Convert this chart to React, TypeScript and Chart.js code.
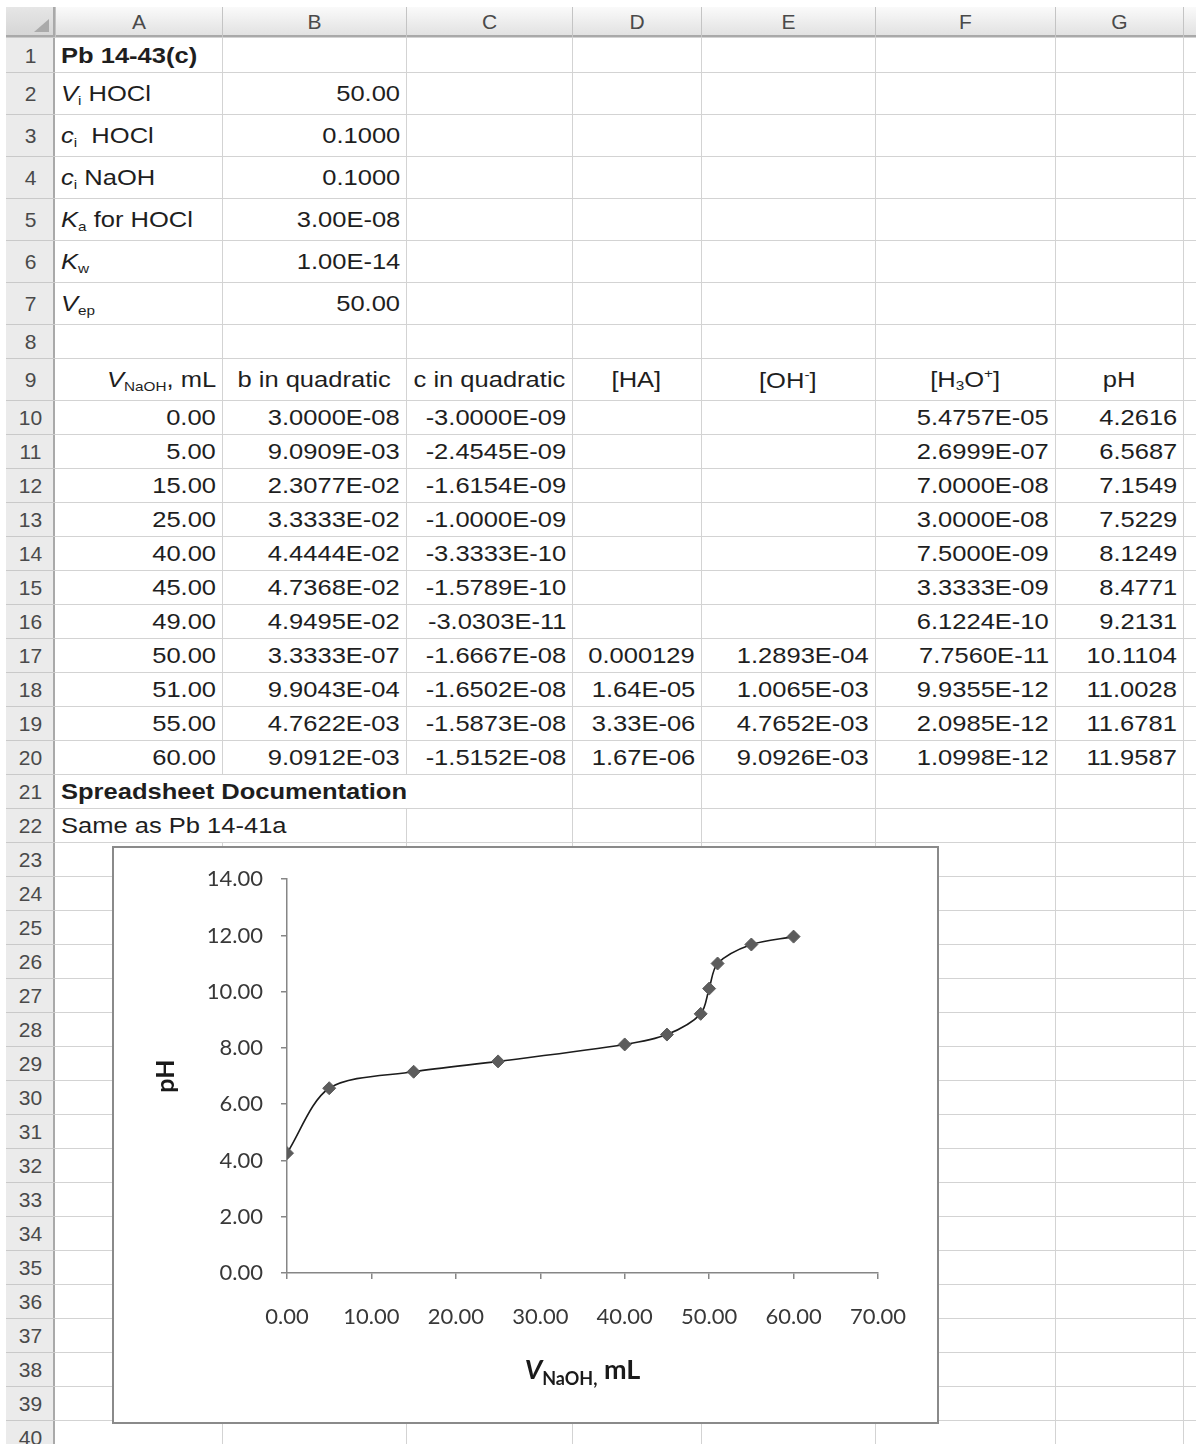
import React, { useEffect, useRef } from "react";
import { Chart, registerables } from "chart.js";

Chart.register(...registerables);

// ---------- data ----------
const columnLetters = ["A", "B", "C", "D", "E", "F", "G"];
const paramValues = ["50.00", "0.1000", "0.1000", "3.00E-08", "1.00E-14", "50.00"];
const volumeML = [0, 5, 15, 25, 40, 45, 49, 50, 51, 55, 60];
const pHValues = [4.2616, 6.5687, 7.1549, 7.5229, 8.1249, 8.4771, 9.2131, 10.1104, 11.0028, 11.6781, 11.9587];
const bQuadratic = ["3.0000E-08", "9.0909E-03", "2.3077E-02", "3.3333E-02", "4.4444E-02", "4.7368E-02", "4.9495E-02", "3.3333E-07", "9.9043E-04", "4.7622E-03", "9.0912E-03"];
const cQuadratic = ["-3.0000E-09", "-2.4545E-09", "-1.6154E-09", "-1.0000E-09", "-3.3333E-10", "-1.5789E-10", "-3.0303E-11", "-1.6667E-08", "-1.6502E-08", "-1.5873E-08", "-1.5152E-08"];
const concHA = ["", "", "", "", "", "", "", "0.000129", "1.64E-05", "3.33E-06", "1.67E-06"];
const concOH = ["", "", "", "", "", "", "", "1.2893E-04", "1.0065E-03", "4.7652E-03", "9.0926E-03"];
const concH3O = ["5.4757E-05", "2.6999E-07", "7.0000E-08", "3.0000E-08", "7.5000E-09", "3.3333E-09", "6.1224E-10", "7.7560E-11", "9.9355E-12", "2.0985E-12", "1.0998E-12"];
const xTickValues = [0, 10, 20, 30, 40, 50, 60, 70];
const yTickValues = [0, 2, 4, 6, 8, 10, 12, 14];

// ---------- layout ----------
const COL_X = [6, 55, 222, 406, 572, 701, 875, 1055, 1183, 1400];
const HEADER_TOP = 7;
const ROW_Y: number[] = (() => {
  const ys = [37, 72, 114, 156, 198, 240, 282, 324, 358, 400];
  for (let r = 11; r <= 41; r++) ys.push(400 + (r - 10) * 34);
  return ys;
})();
const PAGE_W = 1196;
const PAGE_H = 1444;
const GRID = "#d3d3d3";
const CELL_FONT = '"Liberation Sans", Arial, sans-serif';
const STRETCH = 1.16;

const subStyle: React.CSSProperties = { fontSize: "0.6em", verticalAlign: "-0.28em" };
const supStyle: React.CSSProperties = { fontSize: "0.6em", verticalAlign: "0.65em" };

type Align = "left" | "right" | "center";

function Cell(props: { c: number; r: number; align?: Align; bold?: boolean; children: React.ReactNode }) {
  const { c, r, align = "left", bold = false, children } = props;
  const left = COL_X[c];
  const right = COL_X[c + 1];
  const top = ROW_Y[r - 1];
  const bottom = ROW_Y[r];
  const jc = align === "left" ? "flex-start" : align === "right" ? "flex-end" : "center";
  const origin = align === "left" ? "left center" : align === "right" ? "right center" : "center center";
  return (
    <div
      style={{
        position: "absolute",
        left,
        top: top + 1,
        width: right - left,
        height: bottom - top,
        display: "flex",
        alignItems: "center",
        justifyContent: jc,
        padding: "0 6px",
        boxSizing: "border-box",
        fontFamily: CELL_FONT,
        fontSize: 22,
        fontWeight: bold ? 700 : 400,
        color: "#1e1e1e",
        whiteSpace: "nowrap",
        overflow: "visible",
      }}
    >
      <span style={{ display: "inline-block", transform: `scaleX(${STRETCH})`, transformOrigin: origin }}>{children}</span>
    </div>
  );
}

const xTitlePlugin = {
  id: "xTitleParts",
  afterDraw(chart: any) {
    const { ctx, chartArea } = chart;
    const cx = (chartArea.left + chartArea.right) / 2;
    const baseY = chartArea.bottom + 106;
    const parts = [
      { t: "V", font: "italic bold 27px Lato", dy: 0 },
      { t: "NaOH,", font: "bold 18px Lato", dy: 6 },
      { t: " mL", font: "bold 27px Lato", dy: 0 },
    ];
    ctx.save();
    let total = 0;
    const widths = parts.map((p) => {
      ctx.font = p.font;
      const w = ctx.measureText(p.t).width;
      total += w;
      return w;
    });
    let x = cx - total / 2;
    ctx.fillStyle = "#1a1a1a";
    ctx.textBaseline = "alphabetic";
    ctx.textAlign = "left";
    parts.forEach((p, i) => {
      ctx.font = p.font;
      ctx.fillText(p.t, x, baseY + p.dy);
      x += widths[i];
    });
    ctx.restore();
  },
};

function TitrationChart() {
  const ref = useRef<HTMLCanvasElement | null>(null);
  useEffect(() => {
    if (!ref.current) return;
    const axisColor = "#868686";
    const tickFont = { family: "Lato", size: 22 };
    const chart = new Chart(ref.current, {
      type: "scatter",
      data: {
        datasets: [
          {
            data: volumeML.map((v, i) => ({ x: v, y: pHValues[i] })),
            showLine: true,
            tension: 0.3,
            borderColor: "#1c1c1c",
            borderWidth: 1.6,
            pointStyle: "rectRot",
            pointRadius: 6.5,
            pointBackgroundColor: "#5c5c5c",
            pointBorderColor: "#5c5c5c",
            pointBorderWidth: 1,
          },
        ],
      },
      options: {
        responsive: false,
        animation: false,
        devicePixelRatio: 1,
        layout: { padding: { left: 0, top: 26, right: 59, bottom: 0 } },
        plugins: { legend: { display: false }, tooltip: { enabled: false } },
        scales: {
          x: {
            type: "linear",
            min: 0,
            max: 70,
            afterBuildTicks: (s: any) => {
              s.ticks = xTickValues.map((v) => ({ value: v }));
            },
            ticks: {
              callback: (v: any) => Number(v).toFixed(2),
              font: tickFont,
              color: "#383838",
              padding: 25,
              maxRotation: 0,
              autoSkip: false,
            },
            grid: { display: true, drawOnChartArea: false, drawTicks: true, tickLength: 6, color: axisColor, lineWidth: 1.5 },
            border: { display: true, color: axisColor, width: 1.5 },
            afterFit: (s: any) => {
              s.height = 149;
            },
          },
          y: {
            type: "linear",
            min: 0,
            max: 14,
            afterBuildTicks: (s: any) => {
              s.ticks = yTickValues.map((v) => ({ value: v }));
            },
            ticks: {
              callback: (v: any) => Number(v).toFixed(2),
              font: tickFont,
              color: "#383838",
              padding: 18,
            },
            grid: { display: true, drawOnChartArea: false, drawTicks: true, tickLength: 6, color: axisColor, lineWidth: 1.5 },
            border: { display: true, color: axisColor, width: 1.5 },
            title: {
              display: true,
              text: "pH",
              font: { family: "Lato", size: 25, weight: "bold" },
              color: "#1a1a1a",
              padding: { top: 37, bottom: 0 },
            },
            afterFit: (s: any) => {
              s.width = 173;
            },
          },
        },
      } as any,
      plugins: [xTitlePlugin],
    });
    return () => chart.destroy();
  }, []);
  return <canvas ref={ref} width={823} height={574} style={{ display: "block" }} />;
}

export default function App() {
  const rowsCount = 40;
  const lines: React.ReactNode[] = [];
  for (let i = 0; i <= rowsCount; i++) {
    lines.push(
      <div key={"h" + i} style={{ position: "absolute", left: COL_X[1], top: ROW_Y[i], width: PAGE_W - COL_X[1], height: 1, background: GRID }} />
    );
  }
  for (let c = 2; c < COL_X.length - 1; c++) {
    lines.push(
      <div key={"v" + c} style={{ position: "absolute", left: COL_X[c], top: ROW_Y[0], width: 1, height: PAGE_H - ROW_Y[0], background: GRID }} />
    );
  }

  const headerCells = columnLetters.map((L, i) => (
    <div
      key={"ch" + L}
      style={{
        position: "absolute",
        left: COL_X[i + 1],
        top: HEADER_TOP,
        width: COL_X[i + 2] - COL_X[i + 1],
        height: ROW_Y[0] - HEADER_TOP,
        borderLeft: "1px solid #c4c4c4",
        boxSizing: "border-box",
        display: "flex",
        alignItems: "center",
        justifyContent: "center",
        fontFamily: CELL_FONT,
        fontSize: 21,
        color: "#4a4a4a",
      }}
    >
      {L}
    </div>
  ));

  const rowNums: React.ReactNode[] = [];
  for (let r = 1; r <= rowsCount; r++) {
    rowNums.push(
      <div
        key={"rn" + r}
        style={{
          position: "absolute",
          left: COL_X[0],
          top: ROW_Y[r - 1],
          width: COL_X[1] - COL_X[0],
          height: ROW_Y[r] - ROW_Y[r - 1],
          borderTop: "1px solid #c9c9c9",
          boxSizing: "border-box",
          display: "flex",
          alignItems: "center",
          justifyContent: "center",
          fontFamily: CELL_FONT,
          fontSize: 21,
          color: "#4a4a4a",
          paddingTop: 1,
        }}
      >
        {r}
      </div>
    );
  }

  const paramLabels: React.ReactNode[] = [
    <>
      <i>V</i>
      <span style={subStyle}>i</span> HOCl
    </>,
    <>
      <i>c</i>
      <span style={subStyle}>i</span>&nbsp; HOCl
    </>,
    <>
      <i>c</i>
      <span style={subStyle}>i</span> NaOH
    </>,
    <>
      <i>K</i>
      <span style={subStyle}>a</span> for HOCl
    </>,
    <>
      <i>K</i>
      <span style={subStyle}>w</span>
    </>,
    <>
      <i>V</i>
      <span style={subStyle}>ep</span>
    </>,
  ];

  const cells: React.ReactNode[] = [];
  cells.push(
    <Cell key="a1" c={1} r={1} bold>
      Pb 14-43(c)
    </Cell>
  );
  paramLabels.forEach((lab, i) => {
    cells.push(
      <Cell key={"pl" + i} c={1} r={i + 2}>
        {lab}
      </Cell>
    );
    cells.push(
      <Cell key={"pv" + i} c={2} r={i + 2} align="right">
        {paramValues[i]}
      </Cell>
    );
  });
  cells.push(
    <Cell key="h9a" c={1} r={9} align="right">
      <i>V</i>
      <span style={subStyle}>NaOH</span>, mL
    </Cell>
  );
  cells.push(<Cell key="h9b" c={2} r={9} align="center">b in quadratic</Cell>);
  cells.push(<Cell key="h9c" c={3} r={9} align="center">c in quadratic</Cell>);
  cells.push(<Cell key="h9d" c={4} r={9} align="center">[HA]</Cell>);
  cells.push(
    <Cell key="h9e" c={5} r={9} align="center">
      [OH<span style={supStyle}>-</span>]
    </Cell>
  );
  cells.push(
    <Cell key="h9f" c={6} r={9} align="center">
      [H<span style={subStyle}>3</span>O<span style={supStyle}>+</span>]
    </Cell>
  );
  cells.push(<Cell key="h9g" c={7} r={9} align="center">pH</Cell>);

  volumeML.forEach((v, i) => {
    const r = 10 + i;
    cells.push(<Cell key={"va" + i} c={1} r={r} align="right">{v.toFixed(2)}</Cell>);
    cells.push(<Cell key={"vb" + i} c={2} r={r} align="right">{bQuadratic[i]}</Cell>);
    cells.push(<Cell key={"vc" + i} c={3} r={r} align="right">{cQuadratic[i]}</Cell>);
    if (concHA[i]) cells.push(<Cell key={"vd" + i} c={4} r={r} align="right">{concHA[i]}</Cell>);
    if (concOH[i]) cells.push(<Cell key={"ve" + i} c={5} r={r} align="right">{concOH[i]}</Cell>);
    cells.push(<Cell key={"vf" + i} c={6} r={r} align="right">{concH3O[i]}</Cell>);
    cells.push(<Cell key={"vg" + i} c={7} r={r} align="right">{pHValues[i].toFixed(4)}</Cell>);
  });
  cells.push(
    <Cell key="a21" c={1} r={21} bold>
      Spreadsheet Documentation
    </Cell>
  );
  cells.push(
    <Cell key="a22" c={1} r={22}>
      Same as Pb 14-41a
    </Cell>
  );

  const masks = [
    <div key="m21" style={{ position: "absolute", left: COL_X[1] + 1, top: ROW_Y[20] + 1, width: COL_X[4] - COL_X[1] - 2, height: ROW_Y[21] - ROW_Y[20] - 1, background: "#fff" }} />,
    <div key="m22" style={{ position: "absolute", left: COL_X[1] + 1, top: ROW_Y[21] + 1, width: COL_X[3] - COL_X[1] - 2, height: ROW_Y[22] - ROW_Y[21] - 1, background: "#fff" }} />,
  ];

  return (
    <div style={{ position: "absolute", left: 0, top: 0, width: PAGE_W, height: PAGE_H, overflow: "hidden", background: "#fff" }}>
      {lines}
      {masks}
      <div
        style={{
          position: "absolute",
          left: COL_X[0],
          top: HEADER_TOP,
          width: PAGE_W - COL_X[0],
          height: ROW_Y[0] - HEADER_TOP,
          background: "linear-gradient(#fafafa, #e2e2e2)",
          borderBottom: "2px solid #a9a9a9",
          boxSizing: "border-box",
        }}
      />
      {headerCells}
      <div style={{ position: "absolute", left: COL_X[8], top: HEADER_TOP, width: 1, height: ROW_Y[0] - HEADER_TOP, background: "#c4c4c4" }} />
      <div
        style={{
          position: "absolute",
          left: COL_X[0],
          top: ROW_Y[0],
          width: COL_X[1] - COL_X[0],
          height: PAGE_H - ROW_Y[0],
          background: "#ebebeb",
          borderRight: "2px solid #a9a9a9",
          boxSizing: "border-box",
        }}
      />
      {rowNums}
      <div
        style={{
          position: "absolute",
          left: COL_X[0],
          top: HEADER_TOP,
          width: COL_X[1] - COL_X[0],
          height: ROW_Y[0] - HEADER_TOP,
          background: "linear-gradient(#e6e6e6, #d6d6d6)",
          borderRight: "2px solid #a9a9a9",
          borderBottom: "2px solid #a9a9a9",
          boxSizing: "border-box",
        }}
      >
        <div
          style={{
            position: "absolute",
            right: 4,
            bottom: 3,
            width: 0,
            height: 0,
            borderLeft: "15px solid transparent",
            borderBottom: "13px solid #aaaaaa",
          }}
        />
      </div>
      {cells}
      <div
        style={{
          position: "absolute",
          left: 112,
          top: 846,
          width: 827,
          height: 578,
          border: "2px solid #8a8a8a",
          boxSizing: "border-box",
          background: "#fff",
        }}
      >
        <TitrationChart />
      </div>
    </div>
  );
}
